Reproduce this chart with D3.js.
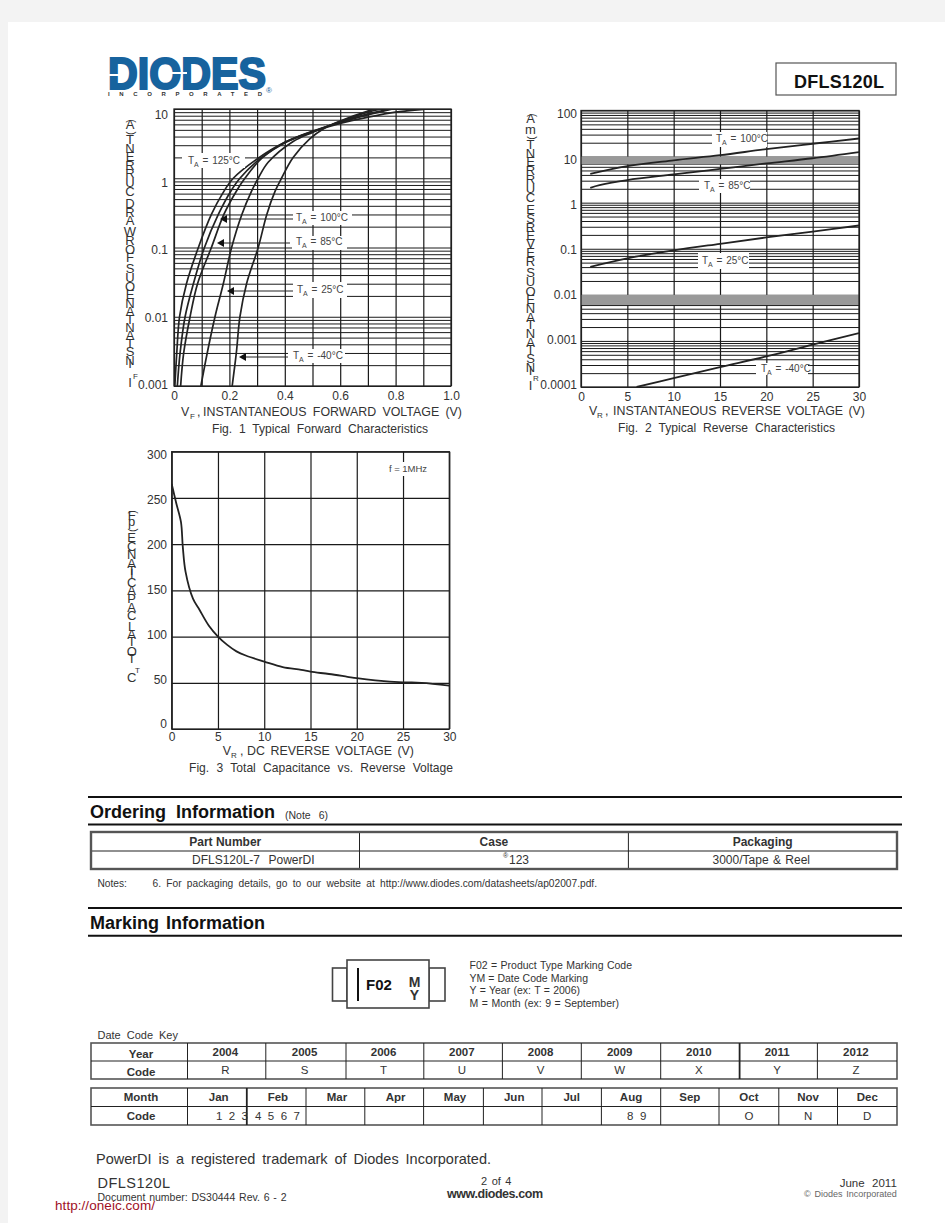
<!DOCTYPE html>
<html>
<head>
<meta charset="utf-8">
<script src="https://cdn.jsdelivr.net/npm/d3@7"></script>
<style>
html,body{margin:0;padding:0;background:#f3f3f3;}
svg{display:block;}
text{font-family:"Liberation Sans",Arial,sans-serif;fill:#333;}
</style>
</head>
<body>
<svg id="page" width="945" height="1223"></svg>
<script>
// fig 1 - forward characteristics, one pair of arrays per temperature
var vf125 = [0.003,0.010,0.020,0.045,0.088,0.135,0.175,0.214,0.30,0.40,0.50,0.60,0.70,0.80,0.90];
var if125 = [0.001,0.003,0.01,0.03,0.1,0.3,0.6,1,1.9,3.3,4.7,6.2,7.6,9,9.9];
var vf100 = [0.012,0.022,0.04,0.07,0.11,0.16,0.205,0.238,0.31,0.40,0.50,0.60,0.70,0.79];
var if100 = [0.001,0.003,0.01,0.03,0.1,0.3,0.65,1,1.9,3.3,4.8,6.4,8.2,10];
var vf85 = [0.024,0.035,0.058,0.085,0.135,0.18,0.225,0.256,0.32,0.41,0.50,0.60,0.70,0.78];
var if85 = [0.001,0.003,0.01,0.03,0.1,0.3,0.65,1,2,3.4,4.7,6.5,8.5,10];
var vf25 = [0.097,0.12,0.148,0.178,0.208,0.245,0.28,0.304,0.34,0.43,0.50,0.60,0.70,0.75];
var if25 = [0.001,0.003,0.01,0.03,0.1,0.3,0.65,1,1.7,3.4,4.6,6.6,9,10];
var vfm40 = [0.21,0.225,0.238,0.262,0.304,0.335,0.365,0.388,0.43,0.49,0.54,0.60,0.70,0.73];
var ifm40 = [0.001,0.003,0.01,0.03,0.1,0.3,0.65,1,2,3.7,5.2,6.7,9.3,10];
var fig1XTicks = [0,0.2,0.4,0.6,0.8,1.0];
var fig1XGrid = [0,0.1,0.2,0.3,0.4,0.5,0.6,0.7,0.8,0.9,1.0];
var fig1YTicks = [0.001,0.01,0.1,1,10];

// fig 2 - reverse characteristics
var vr100 = [1,5,10,15,20,25,30];
var ir100 = [4.2,6.2,8.3,10.7,14.5,19,24.7];
var vr85 = [1,2,5,10,15,20,25,30];
var ir85 = [2.1,2.4,3.1,4.1,5.4,7.1,9.2,12.5];
var vr25 = [1,5,10,15,20,25,30];
var ir25 = [0.0406,0.062,0.092,0.128,0.176,0.235,0.32];
var vrm40 = [6,10,15,20,25,30];
var irm40 = [0.0001,0.000156,0.00027,0.00046,0.00083,0.00148];
var fig2XTicks = [0,5,10,15,20,25,30];
var fig2YTicks = [0.0001,0.001,0.01,0.1,1,10,100];

// fig 3 - capacitance
var capV = [0,0.5,1,1.2,1.5,2.3,3,4,5,6,7,8,10,12,14,15,17,19,20,22,25,27,30];
var capC = [265,244,224,197,170,141,129,112,100,91,84,79.5,73,67,64,62,59.5,56.5,55,52.7,50.5,50,47];
var fig3YTicks = [0,50,100,150,200,250,300];

// tables
var years = ['2004','2005','2006','2007','2008','2009','2010','2011','2012'];
var yearCodes = ['R','S','T','U','V','W','X','Y','Z'];
var yearEdges = [91,187.5,265.8,346,423.8,502.4,581.3,660.7,739.6,817.4,897];
var months = ['Jan','Feb','Mar','Apr','May','Jun','Jul','Aug','Sep','Oct','Nov','Dec'];
var monthEdges = [91,187.5,246.8,306,364.8,423.6,483.4,542,601.4,660.7,719,778.8,837.5,897];
var monthCodes = ['','','','','','','','','','O','N','D'];
var orderHead = ['Part Number','Case','Packaging'];
var orderEdges = [91,359.5,628.4,897];

var svg = d3.select('#page');
svg.append('rect').attr('x',8).attr('y',22).attr('width',937).attr('height',1201).attr('fill','white');

// text stretched between two x positions using the word gaps, like the pdf does
function put(str,x0,x1,base,size,o){
  o = o||{};
  var t = svg.append('text').attr('x',x0).attr('y',base).attr('font-size',size).text(str);
  if(o.bold) t.attr('font-weight','bold');
  if(o.fill) t.style('fill',o.fill);
  if(x1!=null){
    var w = t.node().getComputedTextLength();
    var gaps = str.split(' ').length-1;
    if(gaps>0) t.style('word-spacing',((x1-x0-w)/gaps)+'px');
    else if(str.length>1) t.style('letter-spacing',((x1-x0-w)/(str.length-1))+'px');
  }
  return t;
}
function centre(str,x,base,size,bold){
  var t = svg.append('text').attr('x',x).attr('y',base).attr('font-size',size).attr('text-anchor','middle').text(str);
  if(bold) t.attr('font-weight','bold');
  return t;
}
// y axis titles come out of the pdf as upright letters stacked along the rotated run
function stacked(str,x,yBottom,yTop,size){
  var probe = svg.append('text').attr('font-size',size);
  var adv = str.split('').map(function(c){
    if(c==' ') return size*0.28;
    probe.text(c);
    return probe.node().getComputedTextLength();
  });
  probe.remove();
  var k = (yBottom-yTop)/d3.sum(adv), y = yBottom;
  str.split('').forEach(function(c,i){
    if(c=='('||c==')'){
      svg.append('text').attr('font-size',size*0.8).attr('text-anchor','middle')
        .attr('transform','translate('+(x+4)+','+y+') rotate(-90)').text(c);
    }else if(c!=' '){
      svg.append('text').attr('x',x).attr('y',y).attr('font-size',size).attr('text-anchor','middle').text(c);
    }
    y -= adv[i]*k;
  });
}
function taLabel(x,yc,rest,mask){
  svg.append('rect').attr('x',mask[0]).attr('y',mask[1]).attr('width',mask[2]-mask[0]).attr('height',mask[3]-mask[1]).attr('fill','white');
  var t = svg.append('text').attr('x',x).attr('y',yc+3).attr('font-size',10).style('fill','#444');
  t.append('tspan').text('T');
  t.append('tspan').attr('font-size',7).attr('dy',3).text('A');
  t.append('tspan').attr('dy',-3).style('word-spacing','1px').text(' = '+rest);
}
function arrow(x0,x1,y){
  svg.append('line').attr('x1',x0+5).attr('x2',x1).attr('y1',y).attr('y2',y).attr('stroke','#222').attr('stroke-width',1);
  svg.append('path').attr('d','M'+x0+','+y+'l7,-4v8z').attr('fill','#111');
}
function minorsOf(ticks){
  var out = [];
  ticks.forEach(function(d,i){
    if(i==ticks.length-1){ out.push(d); return; }
    for(var m=1;m<10;m++) out.push(d*m);
  });
  return out;
}
function gridAxis(g,axis,w){
  g.call(axis);
  g.selectAll('.domain').remove();
  g.selectAll('line').attr('stroke','#1a1a1a').attr('stroke-width',w);
}
function tickStyle(g,size){
  g.selectAll('.domain').remove();
  g.selectAll('text').attr('font-size',size).attr('font-family','"Liberation Sans",Arial,sans-serif').style('fill','#333');
}
function plotLines(x,y,series,clipId,width){
  var line = d3.line().x(function(d){return x(d[0]);}).y(function(d){return y(d[1]);}).curve(d3.curveCatmullRom.alpha(0.5));
  var box = svg.append('g').attr('clip-path','url(#'+clipId+')');
  series.forEach(function(s){
    box.append('path').attr('d',line(d3.zip(s[0],s[1]))).attr('fill','none').attr('stroke','#222').attr('stroke-width',width);
  });
}
function clip(id,x0,y0,x1,y1){
  svg.append('clipPath').attr('id',id).append('rect').attr('x',x0).attr('y',y0).attr('width',x1-x0).attr('height',y1-y0);
}
function frame(x0,y0,x1,y1){
  svg.append('rect').attr('x',x0).attr('y',y0).attr('width',x1-x0).attr('height',y1-y0).attr('fill','none').attr('stroke','#222').attr('stroke-width',1.3);
}

// logo
var logo = '#17639e';
var lg = put('DIODES',108,null,89,44,{bold:true,fill:logo});
lg.attr('textLength',158).attr('lengthAdjust','spacingAndGlyphs').style('stroke',logo).style('stroke-width',2.2);
svg.append('line').attr('x1',106).attr('x2',128).attr('y1',75).attr('y2',75).attr('stroke','white').attr('stroke-width',2);
svg.append('line').attr('x1',165).attr('x2',187).attr('y1',73).attr('y2',73).attr('stroke','white').attr('stroke-width',2);
put('INCORPORATED',108,262,96,6,{bold:true,fill:'#333'});
put('®',266,null,93,8,{fill:logo});

// part number box
svg.append('rect').attr('x',776).attr('y',63).attr('width',120).attr('height',32).attr('fill','white').attr('stroke','#555').attr('stroke-width',1.2);
put('DFLS120L',794,884,88,18,{bold:true,fill:'#111'});

// ---------- fig 1
var x1s = d3.scaleLinear().domain([0,1]).range([174,451]);
var y1s = d3.scaleLog().domain([0.001,10]).range([386,109]);
var y1lab = d3.scaleLog().domain([0.001,10]).range([385,115]);
gridAxis(svg.append('g').attr('transform','translate(0,386)'),d3.axisBottom(x1s).tickValues(fig1XGrid).tickSize(-277).tickFormat(''),1.2);
gridAxis(svg.append('g').attr('transform','translate(174,0)'),d3.axisLeft(y1s).tickValues(minorsOf(fig1YTicks)).tickSize(-277).tickFormat(''),1);
frame(174,109,451,386);
clip('c1',174,109,451,386);
plotLines(x1s,y1s,[[vf125,if125],[vf100,if100],[vf85,if85],[vf25,if25],[vfm40,ifm40]],'c1',1.7);
taLabel(188,161,'125°C',[182,153,245,168]);
taLabel(296,218,'100°C',[293,211,352,225]);
taLabel(296,242,'85°C',[292,236,347,250]);
taLabel(297,290,'25°C',[293,282,347,298]);
taLabel(293,356,'-40°C',[288,349,345,363]);
arrow(220,293,219);
arrow(217,290,243);
arrow(227,293,291);
arrow(239,288,357);
var g1x = svg.append('g').attr('transform','translate(0,400)').call(d3.axisBottom(x1s).tickValues(fig1XTicks).tickSize(0).tickFormat(function(d){return d==0?'0':d.toFixed(1);}));
tickStyle(g1x,12); g1x.selectAll('text').attr('y',0).attr('dy',0);
var g1y = svg.append('g').attr('transform','translate(168,0)').call(d3.axisLeft(y1lab).tickValues(fig1YTicks).tickSize(0).tickPadding(0).tickFormat(function(d){return String(d);}));
tickStyle(g1y,12);
put('V',181,null,416,12.4);
put('F',190,null,419,8);
put(',',197,null,416,12.4);
put('INSTANTANEOUS FORWARD VOLTAGE (V)',203,462,416,12.4);
put('Fig. 1 Typical Forward Characteristics',212,428,433,12.1);
stacked('INSTANTANEOUS FORWARD CURRENT (A)',130,368,117,13);
centre('I',130,387,13);
put('F',133,null,379,8);

// ---------- fig 2
var x2s = d3.scaleLinear().domain([0,30]).range([581,859]);
var y2s = d3.scaleLog().domain([0.0001,100]).range([387,110.5]);
var y2lab = d3.scaleLog().domain([0.0001,100]).range([385,114]);
gridAxis(svg.append('g').attr('transform','translate(0,387)'),d3.axisBottom(x2s).tickValues(fig2XTicks).tickSize(-276.5).tickFormat(''),1.2);
gridAxis(svg.append('g').attr('transform','translate(581,0)'),d3.axisLeft(y2s).tickValues(minorsOf(fig2YTicks)).tickSize(-278).tickFormat(''),1);
// the pdf raster turns the upper lines of these two decades into a solid grey band
[[6.8,10],[0.006,0.01]].forEach(function(b){
  svg.append('rect').attr('x',581).attr('width',278).attr('y',y2s(b[1])).attr('height',y2s(b[0])-y2s(b[1])).attr('fill','#999');
});
frame(581,110.5,859,387);
clip('c2',581,110.5,859,387);
plotLines(x2s,y2s,[[vr100,ir100],[vr85,ir85],[vr25,ir25],[vrm40,irm40]],'c2',1.8);
taLabel(716,139,'100°C',[712,132,767,147]);
taLabel(704,186,'85°C',[699,179,750,193]);
taLabel(702,261,'25°C',[698,253,749,269]);
taLabel(761,369,'-40°C',[756,363,808,375]);
var g2x = svg.append('g').attr('transform','translate(0,400.5)').call(d3.axisBottom(x2s).tickValues(fig2XTicks).tickSize(0));
tickStyle(g2x,12); g2x.selectAll('text').attr('y',0).attr('dy',0);
var g2y = svg.append('g').attr('transform','translate(577,0)').call(d3.axisLeft(y2lab).tickValues(fig2YTicks).tickSize(0).tickPadding(0).tickFormat(function(d){return d>=1?String(d):d.toFixed(-Math.round(Math.log10(d)));}));
tickStyle(g2y,12);
put('V',589,null,415,12.4);
put('R',597,null,418,8);
put(',',605,null,415,12.4);
put('INSTANTANEOUS REVERSE VOLTAGE (V)',613,865,415,12.4);
put('Fig. 2 Typical Reverse Characteristics',618,835,432,12.1);
stacked('INSTANTANEOUS REVERSE CURRENT (mA)',530.5,375,111,13);
centre('I',530.5,390,13);
put('R',533,null,381,8);

// ---------- fig 3
var x3s = d3.scaleLinear().domain([0,30]).range([171.7,449.3]);
var y3s = d3.scaleLinear().domain([0,300]).range([729,451.7]);
var y3lab = d3.scaleLinear().domain([0,300]).range([724,455]);
gridAxis(svg.append('g').attr('transform','translate(0,729)'),d3.axisBottom(x3s).tickValues(fig2XTicks).tickSize(-277.3).tickFormat(''),1.2);
gridAxis(svg.append('g').attr('transform','translate(171.7,0)'),d3.axisLeft(y3s).tickValues(fig3YTicks).tickSize(-277.6).tickFormat(''),1.2);
frame(171.7,451.7,449.3,729);
clip('c3',171.7,451.7,449.3,729);
plotLines(x3s,y3s,[[capV,capC]],'c3',1.8);
svg.append('rect').attr('x',387).attr('y',462).attr('width',42).attr('height',14).attr('fill','white');
put('f = 1MHz',389,427,472,9.5,{fill:'#444'});
var g3x = svg.append('g').attr('transform','translate(0,741)').call(d3.axisBottom(x3s).tickValues(fig2XTicks).tickSize(0));
tickStyle(g3x,12); g3x.selectAll('text').attr('y',0).attr('dy',0);
var g3y = svg.append('g').attr('transform','translate(167,0)').call(d3.axisLeft(y3lab).tickValues(fig3YTicks).tickSize(0).tickPadding(0));
tickStyle(g3y,12);
put('V',222.7,null,755,12.4);
put('R',231,null,758,8);
put(',',240,null,755,12.4);
put('DC REVERSE VOLTAGE (V)',247,414,755,12.4);
put('Fig. 3  Total Capacitance vs. Reverse Voltage',189,457,772,12.1);
stacked('TOTAL CAPACITANCE (pF)',131.7,663,508,13);
centre('C',131.7,682,13);
put('T',135,null,673,8);

// ---------- ordering / marking
function rule(y){
  svg.append('line').attr('x1',88).attr('x2',902).attr('y1',y).attr('y2',y).attr('stroke','#111').attr('stroke-width',2);
}
function tableGrid(edges,y0,y1,y2,heavyAt){
  svg.append('rect').attr('x',edges[0]).attr('y',y0).attr('width',edges[edges.length-1]-edges[0]).attr('height',y2-y0).attr('fill','none').attr('stroke','#555').attr('stroke-width',1.6);
  svg.append('line').attr('x1',edges[0]).attr('x2',edges[edges.length-1]).attr('y1',y1).attr('y2',y1).attr('stroke','#222').attr('stroke-width',1.1);
  edges.slice(1,-1).forEach(function(e,i){
    svg.append('line').attr('x1',e).attr('x2',e).attr('y1',y0).attr('y2',y2).attr('stroke','#222').attr('stroke-width',i+1==heavyAt?1.8:1);
  });
}
rule(797);
put('Ordering Information',90,275,818,18,{bold:true,fill:'#111'});
put('(Note 6)',285,328,819,10.5);
rule(824.5);
tableGrid(orderEdges,832,851,869);
svg.append('rect').attr('x',91).attr('y',832).attr('width',806).attr('height',37).attr('fill','none').attr('stroke','#555').attr('stroke-width',2.4);
orderHead.forEach(function(h,i){ centre(h,(orderEdges[i]+orderEdges[i+1])/2,845.5,12,true); });
put('DFLS120L-7 PowerDI',192,314.5,864,12);
put('®',503,null,858,7);
put('123',509,null,864,12);
put('3000/Tape & Reel',712.5,810,864,12);
put('Notes:',97.5,null,887,10.2);
put('6. For packaging details, go to our website at http://www.diodes.com/datasheets/ap02007.pdf.',152.5,597,887,10.2);
rule(908);
put('Marking Information',90,265,929,18,{bold:true,fill:'#111'});
rule(935.7);

// marking sketch
[[332.5,968,14.5,33],[429,968,16,33]].forEach(function(r){
  svg.append('rect').attr('x',r[0]).attr('y',r[1]).attr('width',r[2]).attr('height',r[3]).attr('fill','white').attr('stroke','#444').attr('stroke-width',1.6);
});
svg.append('rect').attr('x',347).attr('y',960).attr('width',82).attr('height',48).attr('fill','white').attr('stroke','#444').attr('stroke-width',1.6);
svg.append('line').attr('x1',358).attr('x2',358).attr('y1',968).attr('y2',1001).attr('stroke','#111').attr('stroke-width',2);
put('F02',366,null,990,15,{bold:true,fill:'#111'});
centre('M',414.5,987,14,true);
centre('Y',414.5,1000,14,true);
put('F02 = Product Type Marking Code',469.6,632,969,10.5);
put('YM = Date Code Marking',469.6,588,982,10.5);
put('Y = Year (ex: T = 2006)',469.6,580,994,10.5);
put('M = Month (ex: 9 = September)',469.6,619,1007,10.5);

// date code tables
put('Date Code Key',97.5,178,1039,11);
tableGrid(yearEdges,1043,1061,1079,8);
centre('Year',141,1058,11.5,true);
centre('Code',141,1076,11.5,true);
years.forEach(function(y,i){
  var c = (yearEdges[i+1]+yearEdges[i+2])/2-1.3;
  centre(y,c,1056,11.5,true);
  centre(yearCodes[i],c,1074,11.5);
});
tableGrid(monthEdges,1088,1106.5,1125,2);
centre('Month',141,1101,11.5,true);
centre('Code',141,1120,11.5,true);
months.forEach(function(m,i){
  var c = (monthEdges[i+1]+monthEdges[i+2])/2+(i<6?1.5:0);
  centre(m,c,1101,11.5,true);
  if(monthCodes[i]) centre(monthCodes[i],c,1120,11.5);
});
put('1 2 3',216,248,1120,11.5);
put('4 5 6 7',255,300,1120,11.5);
put('8 9',627,646.5,1120,11.5);

// footer
put('PowerDI is a registered trademark of Diodes Incorporated.',96,491,1164,14.5);
put('DFLS120L',97.5,170,1188,14.5);
put('Document number: DS30444 Rev. 6 - 2',97.5,286.5,1201,10.5);
put('2 of 4',481,511.5,1185,11);
put('www.diodes.com',447,543,1198,12.5,{bold:true});
put('June 2011',839.7,896.8,1187,11.5);
put('© Diodes Incorporated',804,896.8,1197,9,{fill:'#666'});
put('http://oneic.com/',55,155,1210,13.5,{fill:'#a01025'});
</script>
</body>
</html>
